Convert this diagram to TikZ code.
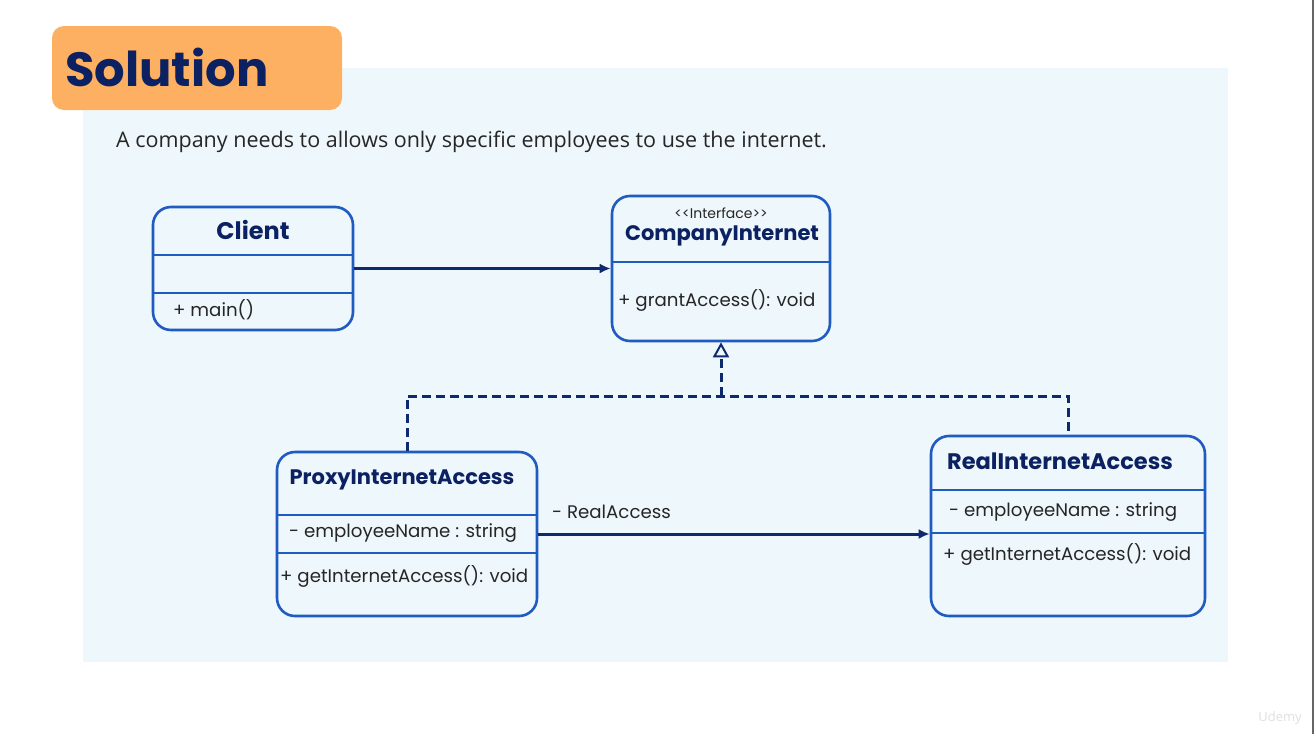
\documentclass[tikz,border=0pt]{standalone}
\usepackage{fontspec}
\setmainfont{Open Sans}
\newfontfamily\gothic{Poppins}
\usetikzlibrary{arrows.meta,positioning}
\definecolor{panelbg}{HTML}{EEF7FB}
\definecolor{titlebg}{HTML}{FDB062}
\definecolor{navy}{HTML}{0B2161}
\definecolor{boxline}{HTML}{1F5BC0}
\definecolor{arrowline}{HTML}{0E2A6E}
\tikzset{
  classbox/.style={draw=boxline, line width=2.6pt, rounded corners=18pt, fill=panelbg, inner sep=0pt},
  sepline/.style={draw=boxline, line width=2.6pt},
  cname/.style={font=\gothic\bfseries\fontsize{#1}{24}\selectfont, text=navy, inner sep=0pt},
  stereo/.style={font=\gothic\fontsize{14}{16}\selectfont, text=black!85, inner sep=0pt},
  member/.style={font=\gothic\fontsize{18.2}{22}\selectfont, text=black!85, anchor=west, inner sep=0pt},
  assoc/.style={draw=arrowline, line width=3pt, -{Latex[length=11pt,width=10pt]}},
  realize/.style={draw=arrowline, line width=3pt, dash pattern=on 9pt off 5pt}
}
\begin{document}
\begin{tikzpicture}[x=1pt,y=-1pt]
  \useasboundingbox (0,0) rectangle (1314,734);
  \fill[white] (0,0) rectangle (1314,734);
  \fill[black!60] (1311.5,0) rectangle (1314,734);
  \fill[panelbg] (83,68) rectangle (1228,662);

  %% title
  \node[fill=titlebg, rounded corners=12pt, minimum width=290pt, minimum height=84pt, inner sep=0pt] (titlebox) at (197,68) {};
  \node[anchor=west, inner sep=0pt, text=navy, font=\gothic\bfseries\fontsize{48}{54}\selectfont] (title) at (65,67) {Solution};
  \node[anchor=base west, inner sep=0pt, text=black!85, font=\fontsize{21.5}{26}\selectfont] (task) at (116,147)
    {A company needs to allows only specific employees to use the internet.};

  %% classes
  \node[classbox, minimum width=200pt, minimum height=123pt] (client) at (253,268.5) {};
  \node[classbox, minimum width=218pt, minimum height=145pt] (company) at (721,268.5) {};
  \node[classbox, minimum width=260pt, minimum height=164pt] (proxy) at (407,534) {};
  \node[classbox, minimum width=274pt, minimum height=180pt] (real) at (1068,526) {};

  \draw[sepline] (client.west |- 0,255) -- (client.east |- 0,255);
  \draw[sepline] (client.west |- 0,293) -- (client.east |- 0,293);
  \draw[sepline] (company.west |- 0,262) -- (company.east |- 0,262);
  \draw[sepline] (proxy.west |- 0,515) -- (proxy.east |- 0,515);
  \draw[sepline] (proxy.west |- 0,553) -- (proxy.east |- 0,553);
  \draw[sepline] (real.west |- 0,490) -- (real.east |- 0,490);
  \draw[sepline] (real.west |- 0,533) -- (real.east |- 0,533);

  \node[cname=24] (clientname) at (253,230) {Client};
  \node[member] (clientop) at (173,310) {+ main()};

  \node[stereo] (companystereo) at (721,213) {<<Interface>>};
  \node[cname=21] (companyname) at (722,236) {CompanyInternet};
  \node[member] (companyop) at (618,300) {+ grantAccess(): void};

  \node[cname=21] (proxyname) at (402,480) {ProxyInternetAccess};
  \node[member] (proxyattr) at (289,533) {- employeeName : string};
  \node[member] (proxyop) at (280,576) {+ getInternetAccess(): void};

  \node[cname=22.5] (realname) at (1060,461) {RealInternetAccess};
  \node[member] (realattr) at (949,512) {- employeeName : string};
  \node[member] (realop) at (943,554) {+ getInternetAccess(): void};

  %% connectors
  \draw[assoc] (client.east) -- (company.west);
  \draw[assoc] (proxy.east) -- (real.west |- proxy.east);
  \node[member] (reallabel) at (552,512) {- RealAccess};

  \coordinate (join) at (721,396);
  \draw[realize] (proxy.north) |- (join) -| (real.north);
  \draw[realize, -{Triangle[open, fill=panelbg, length=15pt, width=16pt, line width=2pt]}] (join) -- (company.south);

  \node[text=black!12, font=\fontsize{13}{15}\selectfont] (mark) at (1280,718) {Udemy};
\end{tikzpicture}
\end{document}
